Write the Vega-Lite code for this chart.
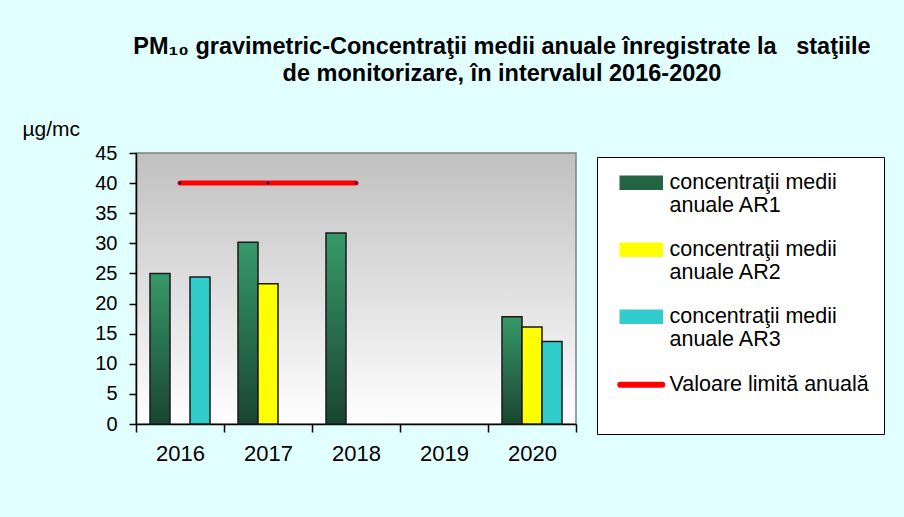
{
  "$schema": "https://vega.github.io/schema/vega-lite/v6.json",
  "width": 440,
  "height": 271,
  "autosize": {"type": "none"},
  "padding": {"left": 136, "top": 153, "right": 328, "bottom": 93},
  "background": "#e2ffff",
  "title": {
    "text": ["PM₁₀ gravimetric-Concentraţii medii anuale înregistrate la\u00a0\u00a0\u00a0staţiile", "de monitorizare, în intervalul 2016-2020"],
    "font": "Liberation Sans",
    "fontSize": 23.5,
    "fontWeight": "bold",
    "color": "#000000",
    "anchor": "middle",
    "dx": 146,
    "offset": 33,
    "lineHeight": 27
  },
  "config": {
    "view": {
      "fill": {"gradient": "linear", "x1": 0, "y1": 0, "x2": 0, "y2": 1, "stops": [{"offset": 0, "color": "#c0c0c0"}, {"offset": 1, "color": "#ffffff"}]},
      "stroke": "#808080",
      "strokeWidth": 1.5
    },
    "axis": {
      "labelFont": "Liberation Sans",
      "titleFont": "Liberation Sans",
      "labelColor": "#000000",
      "titleColor": "#000000",
      "tickColor": "#000000",
      "domainColor": "#000000",
      "domainWidth": 1.5,
      "tickWidth": 1.5,
      "grid": false
    },
    "legend": {
      "orient": "none",
      "legendX": 461,
      "legendY": 4,
      "fillColor": "#ffffff",
      "strokeColor": "#000000",
      "padding": 15,
      "symbolOffset": 18.5,
      "labelFont": "Liberation Sans",
      "labelFontSize": 21.5,
      "labelColor": "#000000",
      "labelLimit": 500,
      "symbolSize": 1764,
      "rowPadding": 21,
      "labelOffset": 17.5
    }
  },
  "datasets": {
    "bare": [
      {"an": "2016", "serie": "AR1", "valoare": 25.0},
      {"an": "2016", "serie": "AR3", "valoare": 24.4},
      {"an": "2017", "serie": "AR1", "valoare": 30.2},
      {"an": "2017", "serie": "AR2", "valoare": 23.3},
      {"an": "2018", "serie": "AR1", "valoare": 31.7},
      {"an": "2020", "serie": "AR1", "valoare": 17.8},
      {"an": "2020", "serie": "AR2", "valoare": 16.1},
      {"an": "2020", "serie": "AR3", "valoare": 13.7}
    ],
    "limita": [
      {"an": "2016", "serie": "limita", "valoare": 40},
      {"an": "2017", "serie": "limita", "valoare": 40},
      {"an": "2018", "serie": "limita", "valoare": 40}
    ]
  },
  "encoding": {
    "x": {
      "field": "an", "type": "nominal",
      "scale": {"domain": ["2016", "2017", "2018", "2019", "2020"], "paddingInner": 0, "paddingOuter": 0},
      "axis": {"title": null, "labelAngle": 0, "labelFontSize": 22, "labelPadding": 11, "tickBand": "extent", "tickSize": 8}
    },
    "y": {
      "field": "valoare", "type": "quantitative",
      "scale": {"domain": [0, 45]},
      "axis": {"values": [0, 5, 10, 15, 20, 25, 30, 35, 40, 45], "tickCount": 10, "labelOverlap": false, "labelBound": false, "title": "µg/mc", "titleAngle": 0, "titleX": -114, "titleY": -18, "titleAlign": "left", "titleBaseline": "alphabetic", "titleFontWeight": "normal", "titleFontSize": 21, "labelFontSize": 20, "tickSize": 7, "labelPadding": 12}
    },
    "color": {
      "field": "serie", "type": "nominal",
      "condition": {"test": "datum.serie === 'AR1'", "value": {"gradient": "linear", "x1": 0, "y1": 0, "x2": 0, "y2": 1, "stops": [{"offset": 0, "color": "#36996a"}, {"offset": 1, "color": "#1a4530"}]}},
      "scale": {"domain": ["AR1", "AR2", "AR3", "limita"], "range": ["#226444", "#ffff00", "#33cccc", "#ff0000"]},
      "legend": {
        "title": null,
        "labelExpr": "datum.label === 'limita' ? ['Valoare limită anuală', ''] : ['concentraţii medii', 'anuale ' + datum.label]",
        "encode": {
          "symbols": {
            "update": {
              "shape": {"signal": "datum.value === 'limita' ? 'M-1,0H1' : 'M-1,-0.31H1V0.31H-1Z'"},
              "fill": {"signal": "datum.value === 'limita' ? 'transparent' : scale('color', datum.value)"},
              "stroke": {"signal": "datum.value === 'limita' ? '#ff0000' : '#1a1a1a'"},
              "strokeWidth": {"signal": "datum.value === 'limita' ? 6 : 1.5"},
              "strokeCap": {"value": "round"},
              "opacity": {"value": 1}
            }
          },
          "labels": {
            "update": {
              "lineHeight": {"value": 23}
            }
          }
        }
      }
    }
  },
  "layer": [
    {
      "data": {"name": "bare"},
      "mark": {"type": "bar", "stroke": "#1a1a1a", "strokeWidth": 1.5},
      "encoding": {
        "xOffset": {"field": "serie", "type": "nominal", "scale": {"domain": ["AR1", "AR2", "AR3"], "paddingInner": 0, "paddingOuter": 0.7}}
      }
    },
    {
      "data": {"name": "limita"},
      "mark": {"type": "line", "strokeWidth": 5, "strokeCap": "round"}
    },
    {
      "data": {"name": "limita"},
      "mark": {"type": "point", "filled": true, "size": 8, "opacity": 1},
      "encoding": {
        "color": {"value": "#000080"}
      }
    }
  ]
}
